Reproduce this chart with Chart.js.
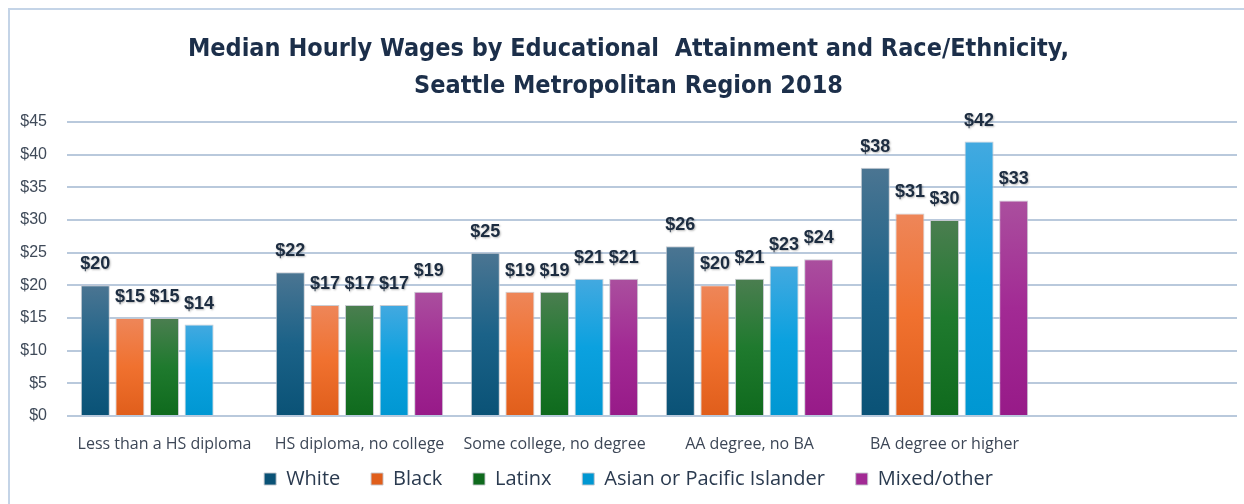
<!DOCTYPE html>
<html>
<head>
<meta charset="utf-8">
<script src="https://cdn.jsdelivr.net/npm/chart.js@4.4.1/dist/chart.umd.min.js"></script>
<style>
    html, body { margin: 0; padding: 0; overflow: hidden; background: #ffffff; }
    #wrap { position: relative; width: 1244px; height: 504px; overflow: hidden; }
    #wages { display: block; }
    #frame {
        position: absolute; left: 8px; top: 8px; width: 1240px; height: 500px;
        border-top: 2px solid #c4d4e7; border-left: 2px solid #c4d4e7;
        pointer-events: none;
    }
</style>
</head>
<body>
<div id="wrap">
    <canvas id="wages" width="1244" height="504"></canvas>
    <div id="frame"></div>
</div>
<script>
// Data ------------------------------------------------------------
let categories = ["Less than a HS diploma", "HS diploma, no college", "Some college, no degree",
    "AA degree, no BA", "BA degree or higher", ""];
let white = [20, 22, 25, 26, 38, null];
let black = [15, 17, 19, 20, 31, null];
let latinx = [15, 17, 19, 21, 30, null];
let asian = [14, 17, 21, 23, 42, null];
let mixed = [null, 19, 21, 24, 33, null];
let yTicks = [0, 5, 10, 15, 20, 25, 30, 35, 40, 45];


// Colours for each series: top of bar, middle, bottom of bar
let shades = {
    white: ["#4b7592", "#1b6288", "#0a5276"],
    black: ["#ee8659", "#f0712f", "#e05e1b"],
    latinx: ["#4b7e50", "#1f7a2e", "#0f6a1d"],
    asian: ["#43a9e0", "#0ba1df", "#0097d2"],
    mixed: ["#aa4f9e", "#a22a94", "#971a88"]
};

// Each bar gets its own gradient, lighter at the top
function barFill(c) {
    return function (context) {
        let chart = context.chart;
        if (context.type !== "data" || context.raw == null || !chart.chartArea) {
            return c[1];
        }
        let y = chart.scales.y;
        let top = y.getPixelForValue(context.raw);
        let bottom = y.getPixelForValue(0);
        let g = chart.ctx.createLinearGradient(0, top, 0, bottom);
        g.addColorStop(0, c[0]);
        g.addColorStop(0.5, c[1]);
        g.addColorStop(1, c[2]);
        return g;
    };
}

function makeSet(label, data, c) {
    return {
        label: label,
        data: data,
        backgroundColor: barFill(c),
        borderColor: "rgba(196,200,206,0.9)",
        borderWidth: 1,
        categoryPercentage: 0.887,
        barPercentage: 0.84
    };
}

// Write "$value" above each bar
let valueLabels = {
    id: "valueLabels",
    afterDatasetsDraw(chart) {
        let ctx = chart.ctx;
        ctx.save();
        ctx.font = "bold 18px 'Liberation Sans', Arial, sans-serif";
        ctx.textAlign = "center";
        ctx.textBaseline = "middle";
        ctx.fillStyle = "#1c2c40";
        ctx.shadowColor = "rgba(0,0,0,0.28)";
        ctx.shadowBlur = 2;
        ctx.shadowOffsetX = 1;
        ctx.shadowOffsetY = 1;
        chart.data.datasets.forEach(function (ds, i) {
            let meta = chart.getDatasetMeta(i);
            meta.data.forEach(function (bar, j) {
                let v = ds.data[j];
                if (v == null) return;
                ctx.fillText("$" + v, bar.x, bar.y - 21);
            });
        });
        ctx.restore();
    }
};

let canvas = document.getElementById("wages").getContext("2d");

let chart = new Chart(canvas, {
    type: "bar",
    data: {
        labels: categories,
        datasets: [
            makeSet("White", white, shades.white),
            makeSet("Black", black, shades.black),
            makeSet("Latinx", latinx, shades.latinx),
            makeSet("Asian or Pacific Islander", asian, shades.asian),
            makeSet("Mixed/other", mixed, shades.mixed)
        ]
    },
    options: {
        responsive: false,
        animation: false,
        layout: { padding: { left: 20, right: 7, top: 0, bottom: 5 } },
        plugins: {
            title: {
                display: true,
                text: ["Median Hourly Wages by Educational  Attainment and Race/Ethnicity,",
                    "Seattle Metropolitan Region 2018"],
                color: "#1c2f4a",
                font: { family: "'DejaVu Sans Condensed', sans-serif", size: 25, weight: "bold", lineHeight: 1.48 },
                padding: { top: 31, bottom: 17 }
            },
            legend: {
                position: "bottom",
                labels: {
                    boxWidth: 12,
                    boxHeight: 12,
                    padding: 10,
                    color: "#2a3a4f",
                    font: { family: "'Open Sans', sans-serif", size: 20 },
                    // extra space after every item but the last one
                    generateLabels: function (chart) {
                        let items = Chart.defaults.plugins.legend.labels.generateLabels(chart);
                        items.forEach(function (it, k) {
                            if (k < items.length - 1) it.text = it.text + "    ";
                        });
                        return items;
                    }
                }
            },
            tooltip: { enabled: false }
        },
        scales: {
            x: {
                grid: { display: false },
                border: { display: false },
                ticks: {
                    color: "#3d4757",
                    padding: 11,
                    maxRotation: 0,
                    autoSkip: false,
                    font: { family: "'Open Sans', sans-serif", size: 16 }
                },
                afterFit: function (scale) { scale.height = 43; }
            },
            y: {
                min: 0,
                max: 45,
                afterBuildTicks: function (scale) {
                    scale.ticks = yTicks.map(function (v) { return { value: v }; });
                },
                afterFit: function (scale) { scale.width = 47; },
                grid: { color: "#b9c9dc", lineWidth: 2, drawTicks: false },
                border: { display: false },
                ticks: {
                    color: "#3f4a59",
                    padding: 20,
                    font: { family: "'Liberation Sans', Arial, sans-serif", size: 16 },
                    callback: function (v) { return "$" + v; }
                }
            }
        }
    },
    plugins: [valueLabels]
});
</script>
</body>
</html>
